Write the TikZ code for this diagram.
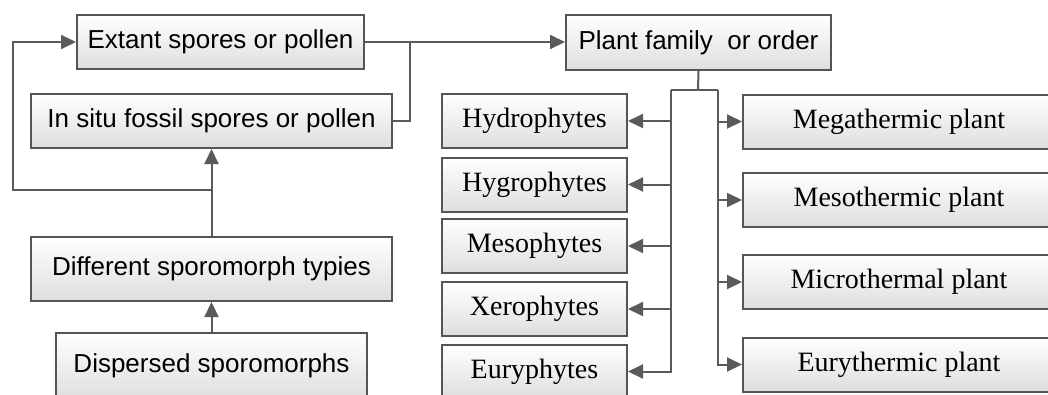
\documentclass[tikz,border=0pt]{standalone}
\usepackage{fontspec}
\setmainfont{Liberation Serif}
\newfontfamily\sansf{Liberation Sans}
\usetikzlibrary{arrows.meta}
\definecolor{edgecol}{HTML}{555555}
\definecolor{linecol}{HTML}{5A5A5A}
\definecolor{boxbot}{HTML}{DEDEDE}
\begin{document}
\begin{tikzpicture}[x=1pt,y=-1pt,
  basebox/.style={draw=edgecol, line width=2pt, top color=white, bottom color=boxbot, inner sep=0pt},
  sbox/.style={basebox, font=\sansf\fontsize{26}{30}\selectfont},
  rbox/.style={basebox, font=\fontsize{28}{32}\selectfont},
  lbox/.style={rbox, minimum width=185pt, minimum height=54pt},
  tbox/.style={rbox, minimum width=312pt, minimum height=54pt},
  wire/.style={draw=linecol, line width=2pt},
  conn/.style={wire, -{Triangle[length=15pt,width=14pt]}}]
\useasboundingbox (0,0) rectangle (1048,394);
\clip (0,0) rectangle (1048,394);
\fill[white] (0,0) rectangle (1048,394);

% left part
\node[sbox, minimum width=287pt, minimum height=54pt] (ext) at (220.5,42) {Extant spores or pollen};
\node[sbox, minimum width=361pt, minimum height=54pt] (insitu) at (211.5,121) {In situ fossil spores or pollen};
\node[sbox, minimum width=361pt, minimum height=64pt] (diff) at (211.5,269) {Different sporomorph typies};
\node[sbox, minimum width=311pt, minimum height=66pt] (disp) at (211.5,366) {Dispersed sporomorphs};

% plant family
\node[sbox, minimum width=265pt, minimum height=55pt] (plant) at (698.5,42.5) {Plant family\ \ or order};

% water column
\node[lbox] (hydro) at (534.5,121) {Hydrophytes};
\node[lbox] (hygro) at (534.5,184.5) {Hygrophytes};
\node[lbox] (meso) at (534.5,246) {Mesophytes};
\node[lbox] (xero) at (534.5,309) {Xerophytes};
\node[lbox] (eury) at (534.5,371.5) {Euryphytes};

% temperature column
\node[tbox] (mega) at (899,121.5) {Megathermic plant};
\node[tbox] (mesot) at (899,200) {Mesothermic plant};
\node[tbox] (micro) at (899,282) {Microthermal plant};
\node[tbox] (euryt) at (899,364.5) {Eurythermic plant};

% connectors left
\coordinate (lp) at (13,190);
\coordinate (j1) at (410,42);
\draw[conn] (disp.north) -- (diff.south);
\draw[conn] (diff.north) -- (insitu.south);
\draw[conn] (diff.north |- lp) -- (lp) |- (ext.west);
\draw[conn] (ext.east) -- (ext.east -| plant.west);
\draw[wire] (insitu.east) -| (j1);

% connectors right
\coordinate (pb) at (698,90);
\coordinate (lb) at (671,90);
\coordinate (rb) at (718,90);
\draw[wire] (plant.south) -- (pb);
\draw[wire] (lb) -- (rb);
\draw[conn] (lb) |- (eury.east);
\draw[conn] (hydro.east -| lb) -- (hydro.east);
\draw[conn] (hygro.east -| lb) -- (hygro.east);
\draw[conn] (meso.east -| lb) -- (meso.east);
\draw[conn] (xero.east -| lb) -- (xero.east);
\draw[conn] (rb) |- (euryt.west);
\draw[conn] (mega.west -| rb) -- (mega.west);
\draw[conn] (mesot.west -| rb) -- (mesot.west);
\draw[conn] (micro.west -| rb) -- (micro.west);
\end{tikzpicture}
\end{document}
